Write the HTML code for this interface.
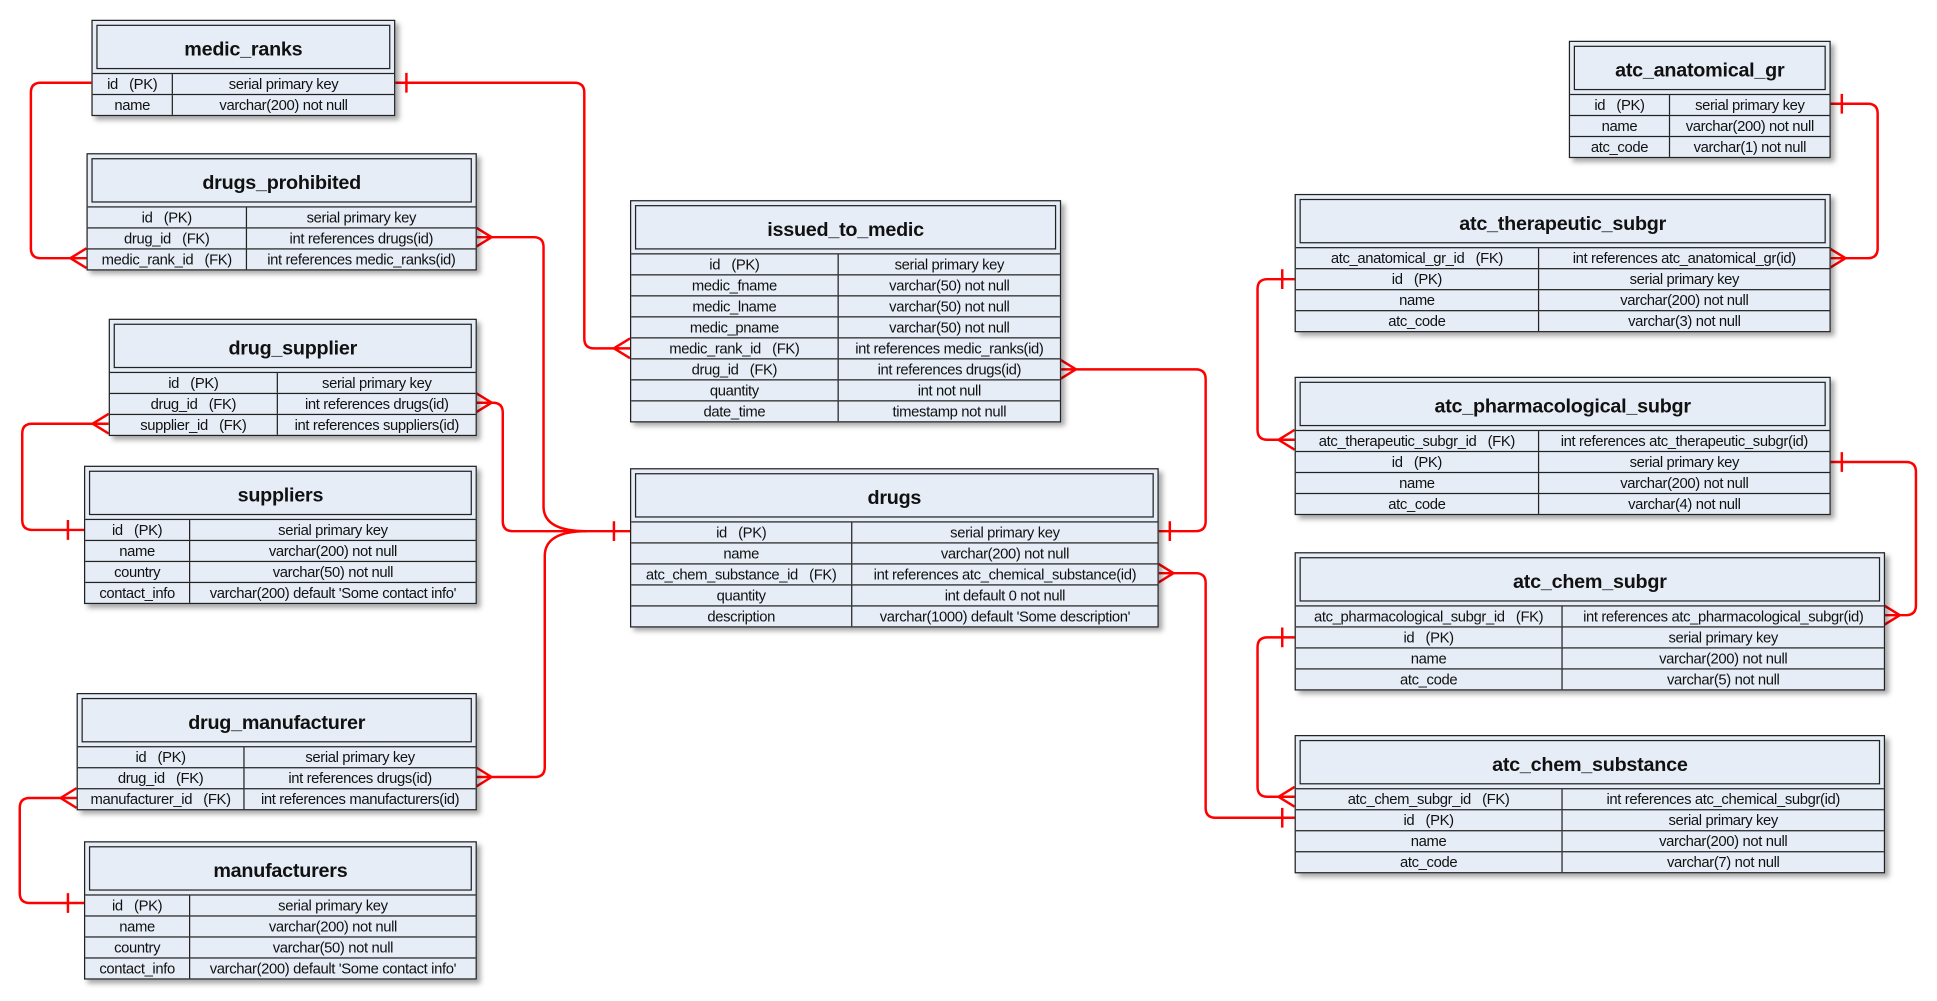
<!DOCTYPE html>
<html><head><meta charset="utf-8"><style>
html,body{margin:0;padding:0;background:#fff;width:1937px;height:1000px;overflow:hidden}
#w{position:absolute;left:0;top:0;width:1568px;height:810px;transform:scale(1.2353);transform-origin:0 0}
.t{position:absolute;background:#e6edf7;border:1px solid #222;box-shadow:3px 3px 4px rgba(0,0,0,.35);font-family:"Liberation Sans",sans-serif;color:#111}
.h{height:43px;padding:3px;box-sizing:border-box;border-bottom:1px solid #222}
.h div{border:1px solid #222;height:100%;box-sizing:border-box;display:flex;align-items:center;justify-content:center;font-weight:bold;font-size:16px;letter-spacing:-0.2px;padding-top:5px}
.r{display:flex;height:17px;box-sizing:border-box;border-bottom:1px solid #222;font-size:12px;line-height:16px;letter-spacing:-0.3px}
.r:last-child{border-bottom:none;height:16px}
.r span{text-align:center;white-space:nowrap;overflow:hidden}
.r span:last-child{flex:1;border-left:1px solid #222}
svg{position:absolute;left:0;top:0}
</style></head><body><div id="w">
<svg width="1568" height="810" fill="none" stroke="#f00" stroke-width="2">
<path d="M74 67H33Q25 67 25 75V201Q25 209 33 209H70M57 209L70 201M57 209L70 217"/>
<path d="M319 67H465Q473 67 473 75V274Q473 282 481 282H510M497 282L510 274M497 282L510 290M329 59V75"/>
<path d="M385 192H432Q440 192 440 200V410Q440 430 475 430H510M398 192L385 184M398 192L385 200M497 422V438"/>
<path d="M385 326H399Q407 326 407 334V422Q407 430 415 430H475M398 326L385 318M398 326L385 334"/>
<path d="M385 629H433Q441 629 441 621V450Q441 430 475 430M398 629L385 621M398 629L385 637"/>
<path d="M88 343H26Q18 343 18 351V421Q18 429 26 429H68M75 343L88 335M75 343L88 351M55 421V437"/>
<path d="M62 646H24Q16 646 16 654V723Q16 731 24 731H68M49 646L62 638M49 646L62 654M55 723V739"/>
<path d="M858 299H968Q976 299 976 307V422Q976 430 968 430H937M871 299L858 291M871 299L858 307M947 422V438"/>
<path d="M937 464H968Q976 464 976 472V654Q976 662 984 662H1048M950 464L937 456M950 464L937 472M1038 654V670"/>
<path d="M1481 84H1512Q1520 84 1520 92V201Q1520 209 1512 209H1481M1494 209L1481 201M1494 209L1481 217M1491 76V92"/>
<path d="M1048 226H1026Q1018 226 1018 234V348Q1018 356 1026 356H1048M1035 356L1048 348M1035 356L1048 364M1038 218V234"/>
<path d="M1481 374H1543Q1551 374 1551 382V490Q1551 498 1543 498H1525M1538 498L1525 490M1538 498L1525 506M1491 366V382"/>
<path d="M1048 516H1026Q1018 516 1018 524V637Q1018 645 1026 645H1048M1035 645L1048 637M1035 645L1048 653M1038 508V524"/>
</svg>

<div class="t" style="left:74px;top:16px;width:244px"><div class="h"><div>medic_ranks</div></div>
<div class="r"><span style="width:64px">id &nbsp;&nbsp;(PK)</span><span>serial primary key</span></div>
<div class="r"><span style="width:64px">name</span><span>varchar(200) not null</span></div></div>

<div class="t" style="left:70px;top:124px;width:314px"><div class="h"><div>drugs_prohibited</div></div>
<div class="r"><span style="width:128px">id &nbsp;&nbsp;(PK)</span><span>serial primary key</span></div>
<div class="r"><span style="width:128px">drug_id &nbsp;&nbsp;(FK)</span><span>int references drugs(id)</span></div>
<div class="r"><span style="width:128px">medic_rank_id &nbsp;&nbsp;(FK)</span><span>int references medic_ranks(id)</span></div></div>

<div class="t" style="left:88px;top:258px;width:296px"><div class="h"><div>drug_supplier</div></div>
<div class="r"><span style="width:135px">id &nbsp;&nbsp;(PK)</span><span>serial primary key</span></div>
<div class="r"><span style="width:135px">drug_id &nbsp;&nbsp;(FK)</span><span>int references drugs(id)</span></div>
<div class="r"><span style="width:135px">supplier_id &nbsp;&nbsp;(FK)</span><span>int references suppliers(id)</span></div></div>

<div class="t" style="left:68px;top:377px;width:316px"><div class="h"><div>suppliers</div></div>
<div class="r"><span style="width:84px">id &nbsp;&nbsp;(PK)</span><span>serial primary key</span></div>
<div class="r"><span style="width:84px">name</span><span>varchar(200) not null</span></div>
<div class="r"><span style="width:84px">country</span><span>varchar(50) not null</span></div>
<div class="r"><span style="width:84px">contact_info</span><span>varchar(200) default 'Some contact info'</span></div></div>

<div class="t" style="left:62px;top:561px;width:322px"><div class="h"><div>drug_manufacturer</div></div>
<div class="r"><span style="width:134px">id &nbsp;&nbsp;(PK)</span><span>serial primary key</span></div>
<div class="r"><span style="width:134px">drug_id &nbsp;&nbsp;(FK)</span><span>int references drugs(id)</span></div>
<div class="r"><span style="width:134px">manufacturer_id &nbsp;&nbsp;(FK)</span><span>int references manufacturers(id)</span></div></div>

<div class="t" style="left:68px;top:681px;width:316px"><div class="h"><div>manufacturers</div></div>
<div class="r"><span style="width:84px">id &nbsp;&nbsp;(PK)</span><span>serial primary key</span></div>
<div class="r"><span style="width:84px">name</span><span>varchar(200) not null</span></div>
<div class="r"><span style="width:84px">country</span><span>varchar(50) not null</span></div>
<div class="r"><span style="width:84px">contact_info</span><span>varchar(200) default 'Some contact info'</span></div></div>

<div class="t" style="left:510px;top:162px;width:347px"><div class="h"><div>issued_to_medic</div></div>
<div class="r"><span style="width:167px">id &nbsp;&nbsp;(PK)</span><span>serial primary key</span></div>
<div class="r"><span style="width:167px">medic_fname</span><span>varchar(50) not null</span></div>
<div class="r"><span style="width:167px">medic_lname</span><span>varchar(50) not null</span></div>
<div class="r"><span style="width:167px">medic_pname</span><span>varchar(50) not null</span></div>
<div class="r"><span style="width:167px">medic_rank_id &nbsp;&nbsp;(FK)</span><span>int references medic_ranks(id)</span></div>
<div class="r"><span style="width:167px">drug_id &nbsp;&nbsp;(FK)</span><span>int references drugs(id)</span></div>
<div class="r"><span style="width:167px">quantity</span><span>int not null</span></div>
<div class="r"><span style="width:167px">date_time</span><span>timestamp not null</span></div></div>

<div class="t" style="left:510px;top:379px;width:426px"><div class="h"><div>drugs</div></div>
<div class="r"><span style="width:178px">id &nbsp;&nbsp;(PK)</span><span>serial primary key</span></div>
<div class="r"><span style="width:178px">name</span><span>varchar(200) not null</span></div>
<div class="r"><span style="width:178px">atc_chem_substance_id &nbsp;&nbsp;(FK)</span><span>int references atc_chemical_substance(id)</span></div>
<div class="r"><span style="width:178px">quantity</span><span>int default 0 not null</span></div>
<div class="r"><span style="width:178px">description</span><span>varchar(1000) default 'Some description'</span></div></div>

<div class="t" style="left:1270px;top:33px;width:210px"><div class="h"><div>atc_anatomical_gr</div></div>
<div class="r"><span style="width:80px">id &nbsp;&nbsp;(PK)</span><span>serial primary key</span></div>
<div class="r"><span style="width:80px">name</span><span>varchar(200) not null</span></div>
<div class="r"><span style="width:80px">atc_code</span><span>varchar(1) not null</span></div></div>

<div class="t" style="left:1048px;top:157px;width:432px"><div class="h"><div>atc_therapeutic_subgr</div></div>
<div class="r"><span style="width:196px">atc_anatomical_gr_id &nbsp;&nbsp;(FK)</span><span>int references atc_anatomical_gr(id)</span></div>
<div class="r"><span style="width:196px">id &nbsp;&nbsp;(PK)</span><span>serial primary key</span></div>
<div class="r"><span style="width:196px">name</span><span>varchar(200) not null</span></div>
<div class="r"><span style="width:196px">atc_code</span><span>varchar(3) not null</span></div></div>

<div class="t" style="left:1048px;top:305px;width:432px"><div class="h"><div>atc_pharmacological_subgr</div></div>
<div class="r"><span style="width:196px">atc_therapeutic_subgr_id &nbsp;&nbsp;(FK)</span><span>int references atc_therapeutic_subgr(id)</span></div>
<div class="r"><span style="width:196px">id &nbsp;&nbsp;(PK)</span><span>serial primary key</span></div>
<div class="r"><span style="width:196px">name</span><span>varchar(200) not null</span></div>
<div class="r"><span style="width:196px">atc_code</span><span>varchar(4) not null</span></div></div>

<div class="t" style="left:1048px;top:447px;width:476px"><div class="h"><div>atc_chem_subgr</div></div>
<div class="r"><span style="width:215px">atc_pharmacological_subgr_id &nbsp;&nbsp;(FK)</span><span>int references atc_pharmacological_subgr(id)</span></div>
<div class="r"><span style="width:215px">id &nbsp;&nbsp;(PK)</span><span>serial primary key</span></div>
<div class="r"><span style="width:215px">name</span><span>varchar(200) not null</span></div>
<div class="r"><span style="width:215px">atc_code</span><span>varchar(5) not null</span></div></div>

<div class="t" style="left:1048px;top:595px;width:476px"><div class="h"><div>atc_chem_substance</div></div>
<div class="r"><span style="width:215px">atc_chem_subgr_id &nbsp;&nbsp;(FK)</span><span>int references atc_chemical_subgr(id)</span></div>
<div class="r"><span style="width:215px">id &nbsp;&nbsp;(PK)</span><span>serial primary key</span></div>
<div class="r"><span style="width:215px">name</span><span>varchar(200) not null</span></div>
<div class="r"><span style="width:215px">atc_code</span><span>varchar(7) not null</span></div></div>
</div></body></html>
